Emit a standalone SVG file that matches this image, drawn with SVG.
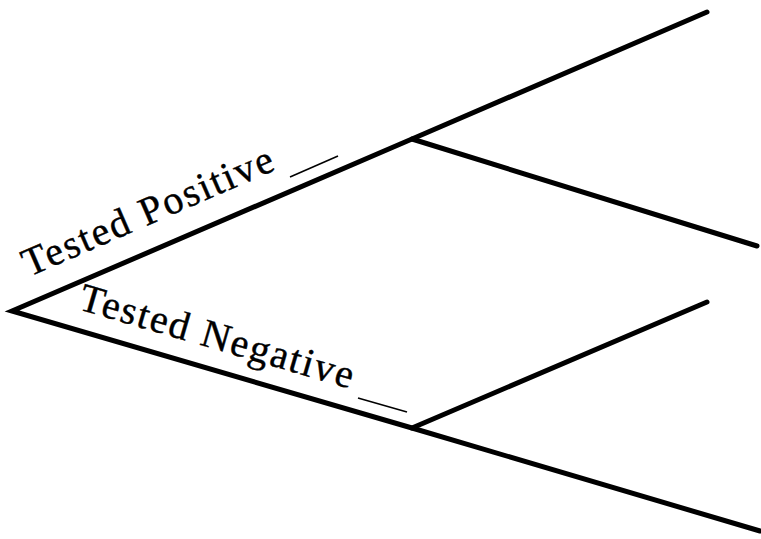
<svg xmlns="http://www.w3.org/2000/svg" width="761" height="539" viewBox="0 0 761 539">
<style>
.edge{stroke:#000;stroke-width:5;fill:none;stroke-linecap:round;stroke-linejoin:miter}
.blank{stroke:#000;stroke-width:1.6;fill:none}
.lbl{font-family:"Liberation Serif","Times New Roman",serif;font-size:40px;fill:#000;stroke:#000;stroke-width:0.4}
</style>
<rect width="761" height="539" fill="#fff"/>
<g id="connectors">
<polyline class="edge" points="707,12 412,139 12,311 412,428 760,531"/>
<line class="edge" x1="412" y1="139" x2="757" y2="246"/>
<line class="edge" x1="412" y1="428" x2="707" y2="302"/>
</g>
<g id="label-positive">
<text class="lbl" transform="translate(29,277) rotate(-23.5)" textLength="270" lengthAdjust="spacing">Tested Positive</text>
<line class="blank" x1="290" y1="177" x2="338" y2="156"/>
</g>
<g id="label-negative">
<text class="lbl" transform="translate(77,309) rotate(16.3)" textLength="284" lengthAdjust="spacing">Tested Negative</text>
<line class="blank" x1="358" y1="398" x2="407" y2="412"/>
</g>
</svg>
